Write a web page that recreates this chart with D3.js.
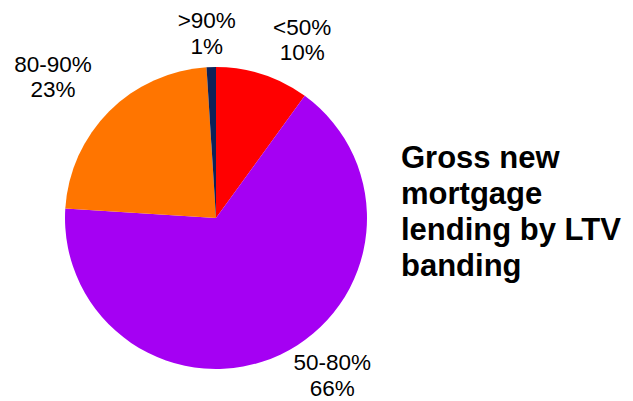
<!DOCTYPE html>
<html><head><meta charset="utf-8">
<script src="https://cdn.jsdelivr.net/npm/d3@7"></script>
<style>body{margin:0;background:#fff}svg{display:block}</style>
</head><body>
<script>
const categories = ["<50%", "50-80%", "80-90%", ">90%"];
const values = [10, 66, 23, 1];
const colors = ["#FF0000", "#A500F3", "#FF7500", "#0D2258"];
const titleLines = ["Gross new", "mortgage", "lending by LTV", "banding"];

const W = 633, H = 401;
const cx = 216, cy = 218, R = 151;
const svg = d3.select("body").append("svg").attr("width", W).attr("height", H);

const pie = d3.pie().sort(null).value(d => d.v);
const data = pie(categories.map((c, i) => ({c, v: values[i], col: colors[i]})));
const arc = d3.arc().innerRadius(0).outerRadius(R);
const g = svg.append("g").attr("transform", `translate(${cx},${cy})`);
g.selectAll("path").data(data).join("path")
  .attr("d", arc).attr("fill", d => d.data.col);

// label layout nudges (dx, dy) relative to a radial anchor
const nudge = {"<50%": [25, 11], "50-80%": [32, -21], "80-90%": [-23, 0], ">90%": [-3, 14]};
const labelArc = d3.arc().innerRadius(198).outerRadius(198);
const lab = g.selectAll("text.lab").data(data).join("text")
  .attr("class", "lab")
  .attr("text-anchor", "middle")
  .attr("font-family", "Liberation Sans, Arial, sans-serif")
  .attr("font-size", 22.5)
  .attr("fill", "#000")
  .attr("transform", d => {
    const [x, y] = labelArc.centroid(d);
    const n = nudge[d.data.c];
    return `translate(${x + n[0]},${y + n[1]})`;
  });
lab.append("tspan").attr("x", 0).attr("y", -6).text(d => d.data.c);
lab.append("tspan").attr("x", 0).attr("y", 19.5).text(d => Math.round(d.data.v) + "%");

const t = svg.append("text")
  .attr("font-family", "Liberation Sans, Arial, sans-serif")
  .attr("font-size", 31).attr("font-weight", "bold").attr("fill", "#000");
titleLines.forEach((l, i) => t.append("tspan").attr("x", 401).attr("y", 168 + i * 36).text(l));
</script>
</body></html>
